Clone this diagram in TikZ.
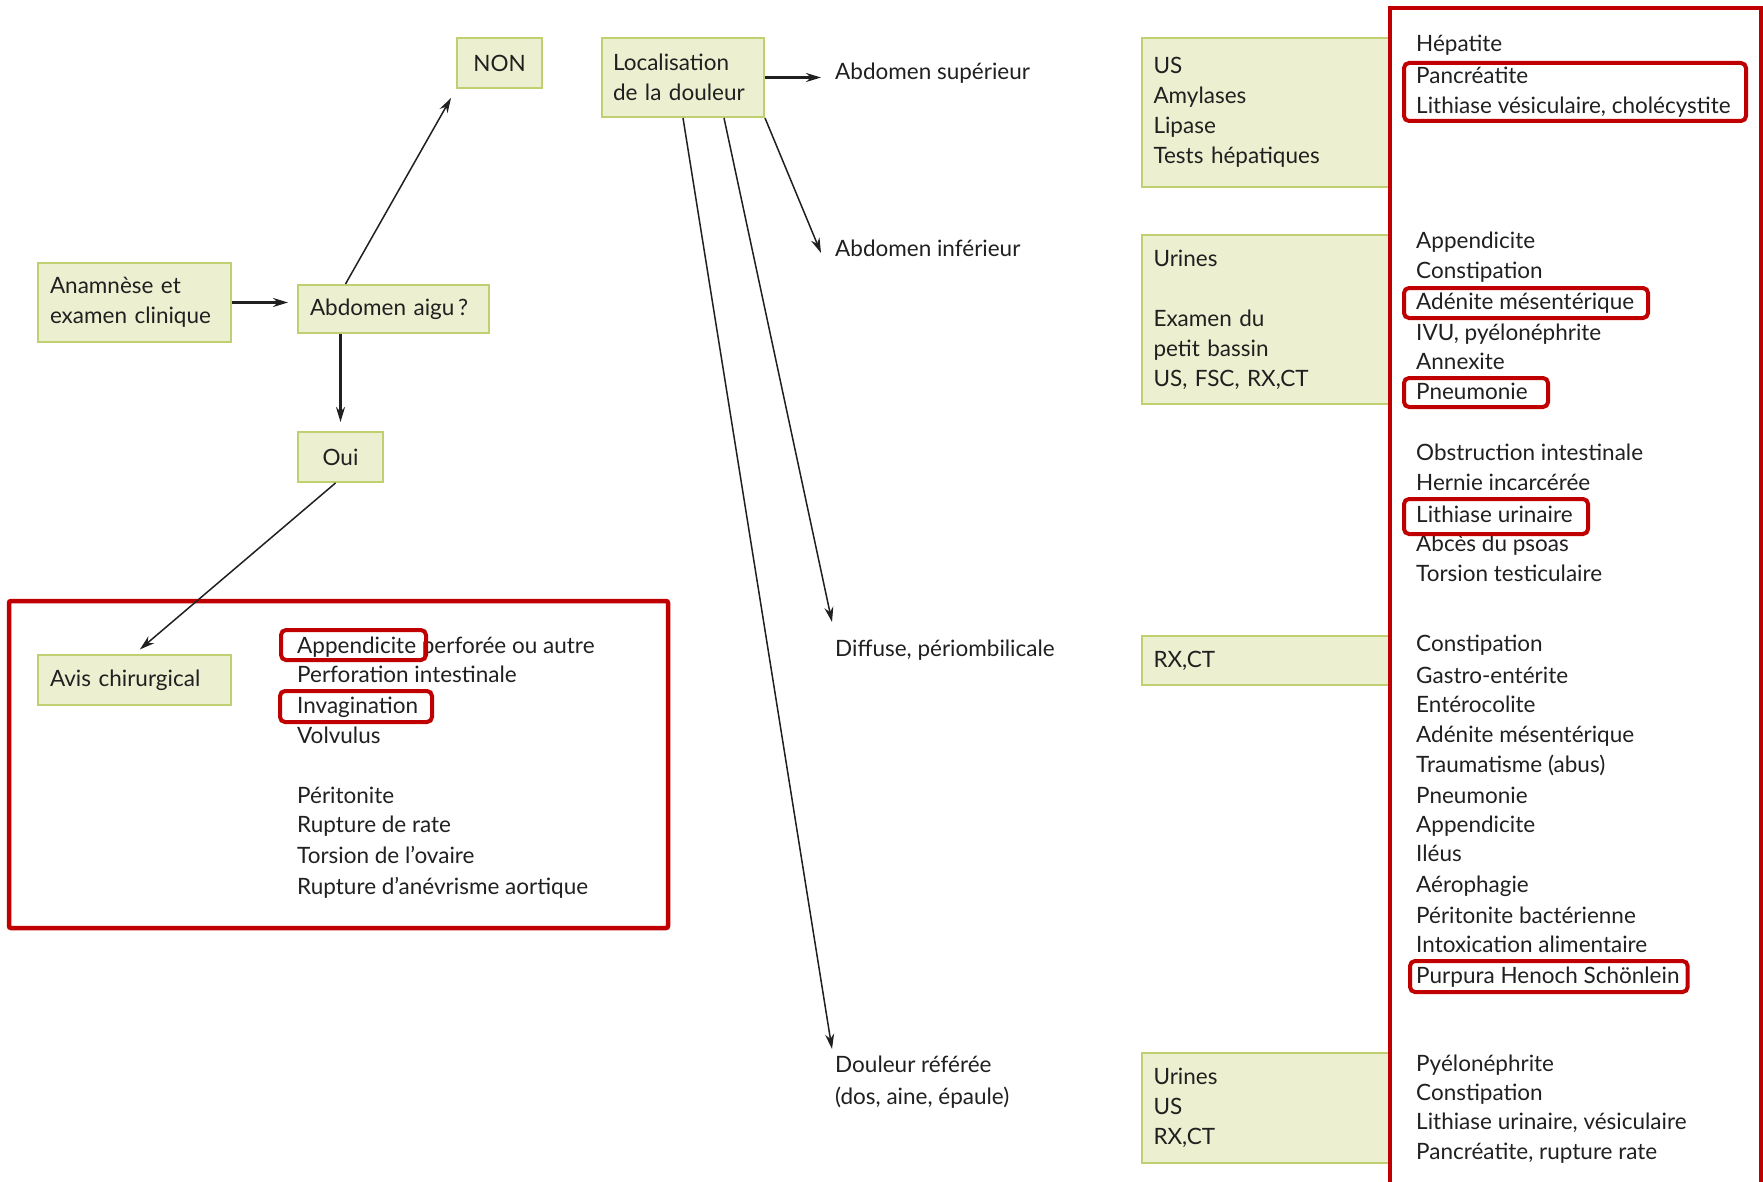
\documentclass[tikz,border=0pt]{standalone}
\usepackage{fontspec}
\setmainfont{Lato}
\usetikzlibrary{arrows.meta}
\definecolor{gfill}{RGB}{236,240,208}
\definecolor{gdraw}{RGB}{192,208,112}
\definecolor{hred}{RGB}{192,0,0}
\definecolor{txt}{RGB}{32,32,32}
\begin{document}
\begin{tikzpicture}[x=1pt,y=-1pt,
  txtfont/.style={font=\fontsize{22.5}{30}\selectfont, text=txt},
  gbox/.style={draw=gdraw, fill=gfill, line width=2pt, txtfont, align=left,
     inner xsep=12pt, inner ysep=0pt, anchor=north west},
  lbl/.style={anchor=base west, inner sep=0pt, txtfont},
  arr/.style={-{Stealth[length=15pt,width=9pt]}, line width=1.5pt, draw=txt},
  harr/.style={arr, line width=2.2pt},
  hl/.style={draw=hred, line width=4pt, rounded corners=5pt},
  redbox/.style={draw=hred, line width=4.5pt},
]
\useasboundingbox[fill=white] (0,0) rectangle (1763,1182);

% ---------------- left part ----------------
\node[gbox, minimum width=193pt, minimum height=79pt, text width=169pt] (anam) at (37,262)
  {Anamnèse et\\examen clinique};
\node[gbox, minimum width=191pt, minimum height=48pt, text width=167pt] (aigu) at (297,284)
  {Abdomen aigu\,?};
\node[gbox, minimum width=85pt, minimum height=50pt, align=center, inner xsep=0pt] (non) at (456,37)
  {NON};
\node[gbox, minimum width=85pt, minimum height=50pt, align=center, inner xsep=0pt] (oui) at (297,431)
  {Oui};
\node[gbox, minimum width=162pt, minimum height=79pt, text width=140pt, inner xsep=11pt] (loc) at (601,37)
  {Localisation\\de la douleur};
\node[gbox, minimum width=193pt, minimum height=50pt, text width=169pt] (avis) at (37,654)
  {Avis chirurgical};

% red frame, left
\draw[redbox, rounded corners=2pt] (9,601) rectangle (668,928);

% surgical list
\foreach \yy/\tt [count=\i] in {646.5/{Appendicite perforée ou autre},
   675.8/{Perforation intestinale}, 706.1/{Invagination}, 736.5/{Volvulus},
   796.1/{Péritonite}, 825.3/{Rupture de rate}, 856.8/{Torsion de l'ovaire},
   887.2/{Rupture d'anévrisme aortique}}
  \node[lbl] (s\i) at (297,\yy+7) {\tt};

\draw[hl] (281,630) rectangle (426,660);
\draw[hl] (280,691) rectangle (432,722);

% ---------------- middle labels ----------------
\node[lbl] (sup) at (835,80) {Abdomen supérieur};
\node[lbl] (inf) at (835,257) {Abdomen inférieur};
\node[lbl] (dif) at (835,656) {Diffuse, périombilicale};
\node[lbl] (ref1) at (835,1072) {Douleur référée};
\node[lbl] (ref2) at (835,1104) {(dos, aine, épaule)};

\coordinate (tinf) at (821,253);
\coordinate (tdif) at (832,622);
\coordinate (tref) at (832,1049);

% ---------------- right green boxes ----------------
\node[gbox, minimum width=249pt, minimum height=149pt, text width=226pt, inner xsep=11pt] (b1) at (1141,37)
  {US\\Amylases\\Lipase\\Tests hépatiques};
\node[gbox, minimum width=249pt, minimum height=169pt, text width=226pt, inner xsep=11pt] (b2) at (1141,234)
  {Urines\\[30pt]Examen du\\petit bassin\\US, FSC, RX,CT};
\node[gbox, minimum width=249pt, minimum height=49pt, text width=226pt, inner xsep=11pt] (b3) at (1141,635)
  {RX,CT};
\node[gbox, minimum width=249pt, minimum height=110pt, text width=226pt, inner xsep=11pt] (b4) at (1141,1052)
  {Urines\\US\\RX,CT};

% ---------------- right red frame ----------------
\draw[redbox] (1390,1190) -- (1390,8) -- (1761,8) -- (1761,1190);

\foreach \yy/\tt [count=\i] in {45/{Hépatite}, 76.5/{Pancréatite},
   107/{Lithiase vésiculaire, cholécystite},
   242/{Appendicite}, 272/{Constipation}, 302.5/{Adénite mésentérique},
   333/{IVU, pyélonéphrite}, 362/{Annexite}, 392/{Pneumonie},
   453/{Obstruction intestinale}, 483.5/{Hernie incarcérée}, 515/{Lithiase urinaire},
   544/{Abcès du psoas}, 574.5/{Torsion testiculaire},
   644/{Constipation}, 676/{Gastro-entérite}, 705/{Entérocolite},
   735/{Adénite mésentérique}, 765/{Traumatisme (abus)}, 796/{Pneumonie},
   825/{Appendicite}, 854.5/{Iléus}, 885/{Aérophagie}, 916/{Péritonite bactérienne},
   945.6/{Intoxication alimentaire}, 976/{Purpura Henoch Schönlein},
   1064/{Pyélonéphrite}, 1093/{Constipation}, 1122/{Lithiase urinaire, vésiculaire},
   1152/{Pancréatite, rupture rate}}
  \node[lbl] (r\i) at (1416,\yy+7) {\tt};

\draw[hl] (1404,63) rectangle (1746,121);
\draw[hl] (1404,288) rectangle (1648,318);
\draw[hl] (1404,378) rectangle (1548,407);
\draw[hl] (1404,499) rectangle (1588,534);
\draw[hl] (1410,961) rectangle ([xshift=8pt]r26.east |- 0,992);

% ---------------- connectors ----------------
\draw[harr, shorten >=9pt] (anam.east) -- (anam.east -| aigu.west);
\draw[arr] ([xshift=-48pt]aigu.north) -- ([shift={(-5,9)}]non.south west);
\draw[harr, shorten >=9pt] (oui.north |- aigu.south) -- (oui.north);
\draw[arr, shorten >=7pt] ([xshift=-5pt]oui.south) -- (avis.north);
\draw[harr] (loc.east) -- ([xshift=-14pt]loc.east -| sup.west);
\draw[arr] (loc.south east) -- (tinf);
\draw[arr] ([xshift=41pt]loc.south) -- (tdif);
\draw[arr] (loc.south) -- (tref);
\end{tikzpicture}
\end{document}
